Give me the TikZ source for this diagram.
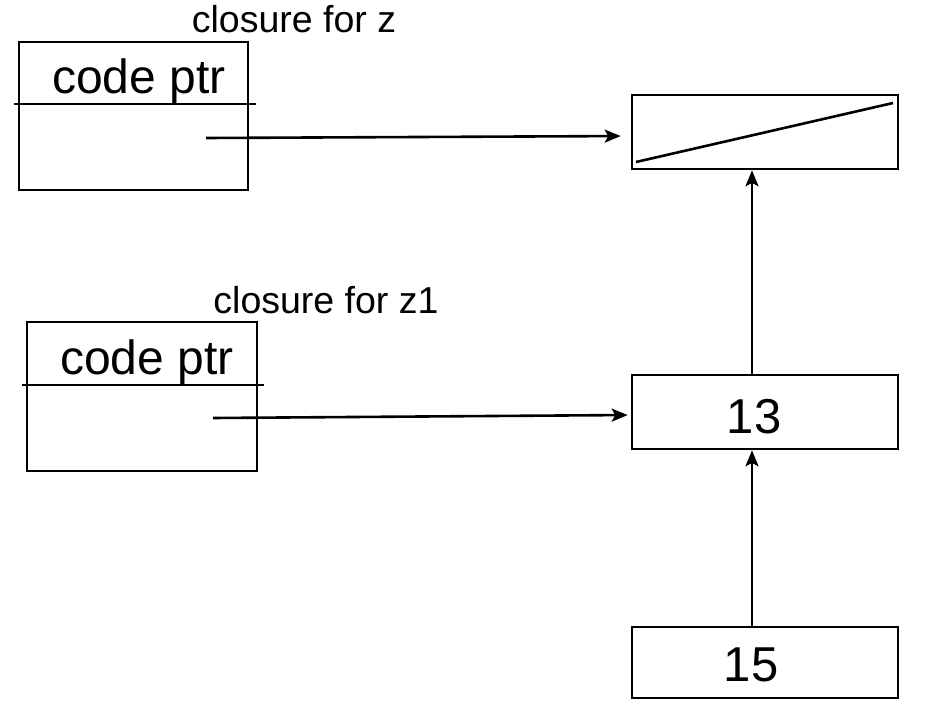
\documentclass[tikz,border=0pt]{standalone}
\usepackage{fontspec}
\setmainfont{Liberation Sans}
\usetikzlibrary{arrows.meta}
\begin{document}
\begin{tikzpicture}[x=1pt,y=-1pt,line width=2.6pt,
  cell/.style={draw,rectangle,minimum width=266pt,minimum height=74pt,inner sep=0pt},
  num/.style={inner sep=0pt,anchor=base,font=\fontsize{49}{53}\selectfont},
  clo/.style={draw,rectangle,inner sep=0pt},
  lbl/.style={inner sep=0pt,anchor=base,font=\fontsize{37.5}{41}\selectfont},
  cp/.style={inner sep=0pt,anchor=base,font=\fontsize{48}{52}\selectfont},
  ptr/.style={-{Stealth[length=16pt,width=13pt,inset=3.5pt]}}]
\useasboundingbox (0,0) rectangle (940,701);
% closures
\node[clo,minimum width=229pt,minimum height=148pt] (c1) at (133.5,116) {};
\node[clo,minimum width=230pt,minimum height=149pt] (c2) at (142,396.5) {};
\coordinate (d1a) at (14,104); \coordinate (d1b) at (256,104);
\coordinate (d2a) at (22,385); \coordinate (d2b) at (264,385);
\draw (d1a) -- (d1b);
\draw (d2a) -- (d2b);
\node[cp] (cp1) at (139,94) {code ptr};
\node[cp] (cp2) at (147,374) {code ptr};
\node[lbl] (l1) at (294,33) {closure for z};
\node[lbl] (l2) at (326,313) {closure for z1};
% cells
\node[cell] (top) at (765,132) {};
\node[cell] (n13) at (765,412) {};
\node[cell,minimum height=71pt] (n15) at (765,662.5) {};
\node[num] (t13) at (754,433) {13};
\node[num] (t15) at (751,681) {15};
\coordinate (diagA) at (636,162); \coordinate (diagB) at (893,103);
\draw (diagA) -- (diagB);
% pointers
\coordinate (p1) at (206,138);
\coordinate (p2) at (213,418);
\draw[ptr,shorten >=10pt] (p1) -- ([yshift=-4pt]top.west);
\draw[ptr,shorten >=3pt] (p2) -- ([yshift=-3pt]n13.west);
\draw[ptr] ([xshift=-13pt]n13.north) -- ([xshift=-13pt]top.south);
\draw[ptr] ([xshift=-13pt]n15.north) -- ([xshift=-13pt]n13.south);
\end{tikzpicture}
\end{document}
